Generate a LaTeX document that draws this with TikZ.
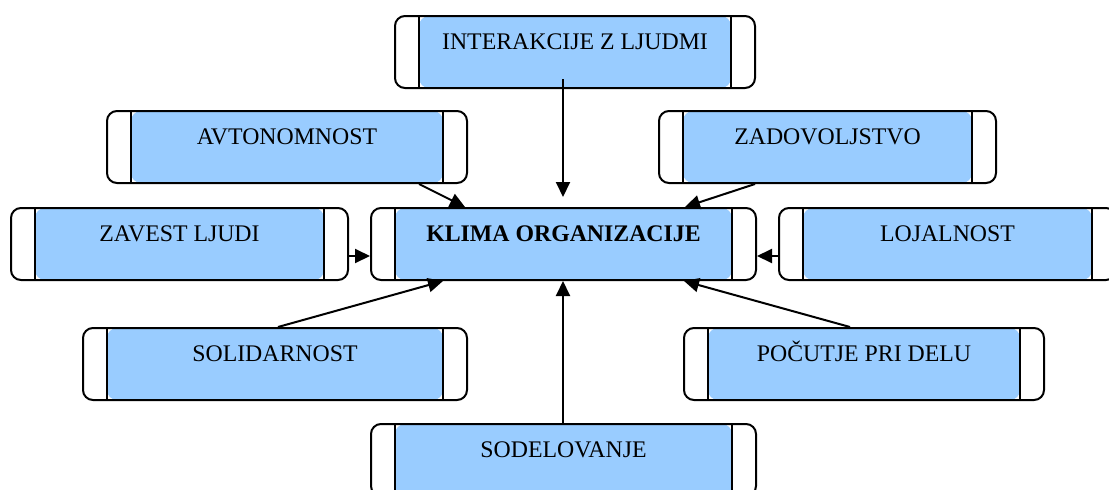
\documentclass[tikz,border=0pt]{standalone}
\usepackage{fontspec}
\setmainfont{Liberation Serif}
\usetikzlibrary{arrows.meta}
\definecolor{panelblue}{RGB}{153,204,255}
\tikzset{
  procbox/.style={
    draw, line width=2pt, rounded corners=10pt, fill=white,
    inner xsep=0pt, inner ysep=0pt,
    text height=33pt, text depth=39pt, minimum width=#1,
    font=\fontsize{23.8}{28}\selectfont,
    path picture={
      \fill[panelblue] ([xshift=24pt]path picture bounding box.south west)
        rectangle ([xshift=-24pt]path picture bounding box.north east);
      \draw[line width=2pt] ([xshift=24pt]path picture bounding box.south west)
        -- ([xshift=24pt]path picture bounding box.north west);
      \draw[line width=2pt] ([xshift=-24pt]path picture bounding box.south east)
        -- ([xshift=-24pt]path picture bounding box.north east);
    }
  },
  arr/.style={line width=2pt, -{Triangle[length=15pt,width=14pt]}}
}
\begin{document}
\begin{tikzpicture}[x=1pt,y=-1pt]
\useasboundingbox (0,0) rectangle (1109,490);

% boxes
\node[procbox=360pt] (int)   at (575,52)    {INTERAKCIJE Z LJUDMI};
\node[procbox=360pt] (av)    at (287,147)   {AVTONOMNOST};
\node[procbox=337pt] (zad)   at (827.5,147) {ZADOVOLJSTVO};
\node[procbox=337pt] (zav)   at (179.5,244) {ZAVEST LJUDI};
\node[procbox=385pt, font=\fontsize{23.8}{28}\selectfont\bfseries] (klima) at (563.5,244) {KLIMA ORGANIZACIJE};
\node[procbox=337pt] (loj)   at (947.5,244) {LOJALNOST};
\node[procbox=384pt] (sol)   at (275,364)   {SOLIDARNOST};
\node[procbox=360pt] (poc)   at (864,364)   {POČUTJE PRI DELU};
\node[procbox=385pt] (sod)   at (563.5,460) {SODELOVANJE};

% connectors into the central box
\draw[arr] ([yshift=10pt]int.south -| 563,0) -- ([yshift=10pt]klima.north -| 563,0);
\draw[arr] (av.south -| 419,0) -- (klima.north -| 465,0);
\draw[arr] (zad.south -| 755,0) -- (klima.north -| 685,0);
\draw[arr] ([yshift=-12pt]zav.east) -- ([yshift=-12pt]klima.west);
\draw[arr] ([yshift=-12pt]loj.west) -- ([yshift=-12pt]klima.east);
\draw[arr] (sol.north -| 278,0) -- (klima.south -| 443,0);
\draw[arr] (poc.north -| 850,0) -- (klima.south -| 684,0);
\draw[arr] (sod.north -| 563,0) -- (klima.south -| 563,0);
\end{tikzpicture}
\end{document}
